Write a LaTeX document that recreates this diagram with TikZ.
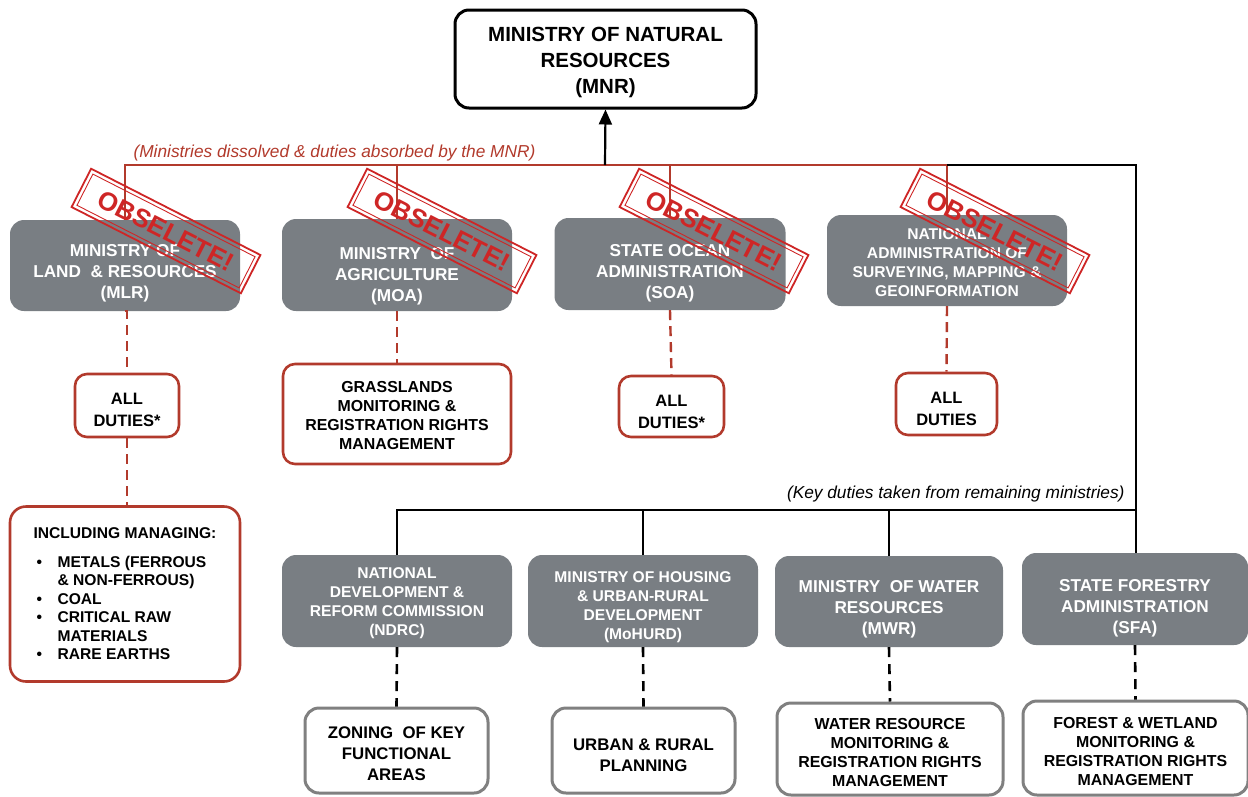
\documentclass[tikz,border=0pt]{standalone}
\usepackage{fontspec}
\setmainfont{Liberation Sans}
\usetikzlibrary{arrows.meta}
\definecolor{rd}{RGB}{178,58,44}
\definecolor{stampred}{RGB}{206,38,38}
\definecolor{gbox}{RGB}{121,126,131}
\definecolor{gline}{RGB}{128,128,128}
\newcommand\fsz[2]{\fontsize{#1}{#2}\selectfont}
\newcommand\up[1]{\rule{0pt}{#1pt}}
\tikzset{
  graybox/.style={fill=gbox, rounded corners=14pt, text=white, align=center, inner sep=2pt,
    font=\bfseries\fsz{17.2}{21}},
  grayfour/.style={graybox, font=\bfseries\fsz{15.6}{19}},
  dutybox/.style={draw=rd, line width=2.6pt, fill=white, rounded corners=12pt, align=center, inner sep=2pt,
    font=\bfseries\fsz{16.5}{22}},
  dutyfour/.style={dutybox, font=\bfseries\fsz{15.9}{19}},
  whitebox/.style={draw=gline, line width=3pt, fill=white, rounded corners=14pt, align=center, inner sep=2pt,
    font=\bfseries\fsz{15.9}{19}},
  whitethree/.style={whitebox, font=\bfseries\fsz{16.8}{21}},
  topbox/.style={draw=black, line width=3pt, fill=white, rounded corners=14pt, align=center, inner sep=2pt,
    font=\bfseries\fsz{20.5}{26}},
  redline/.style={draw=rd, line width=2pt},
  reddash/.style={draw=rd, line width=2.4pt, dash pattern=on 10pt off 6pt},
  blkline/.style={draw=black, line width=2.2pt},
  blkdash/.style={draw=black, line width=2.6pt, dash pattern=on 10pt off 7pt},
  stampout/.style={draw=stampred, line width=1.8pt, minimum width=190pt, minimum height=43pt, rotate=-27},
  stampin/.style={draw=stampred, line width=0.9pt, minimum width=182pt, minimum height=35pt, rotate=-27,
    text=stampred, inner sep=0pt, font=\bfseries\fsz{26}{26}},
}
\begin{document}
\begin{tikzpicture}[x=1pt,y=-1pt]
\useasboundingbox (0,0) rectangle (1248,796);

% top
\node[topbox, minimum width=301pt, minimum height=98pt] (mnr) at (605.5,59)
  {\up{21}MINISTRY OF NATURAL\\RESOURCES\\(MNR)};

% dissolved ministries
\node[graybox, minimum width=230pt, minimum height=91pt] (mlr) at (125,265.5)
  {\up{27}MINISTRY OF\\LAND \ \& RESOURCES\\(MLR)};
\node[graybox, minimum width=230pt, minimum height=92pt] (moa) at (397,265)
  {\up{34}MINISTRY \ OF\\AGRICULTURE\\(MOA)};
\node[graybox, minimum width=231pt, minimum height=92pt] (soa) at (670,264)
  {\up{30}STATE OCEAN\\ADMINISTRATION\\(SOA)};
\node[grayfour, minimum width=240pt, minimum height=91pt] (nas) at (947,260.5)
  {\up{15}NATIONAL\\ADMINISTRATION OF\\SURVEYING, MAPPING \&\\GEOINFORMATION};

% duty boxes (red)
\node[dutybox, minimum width=104pt, minimum height=63pt] (d1) at (127,405.5) {\up{21}ALL\\DUTIES*};
\node[dutyfour, minimum width=228pt, minimum height=100pt] (d2) at (397,414)
  {\up{14}GRASSLANDS\\MONITORING \&\\REGISTRATION RIGHTS\\MANAGEMENT};
\node[dutybox, minimum width=105pt, minimum height=61pt] (d3) at (671.5,406.5) {\up{22}ALL\\DUTIES*};
\node[dutybox, minimum width=101pt, minimum height=62pt] (d4) at (946.5,404) {\up{22}ALL\\DUTIES};
\node[draw=rd, line width=2.6pt, fill=white, rounded corners=16pt, align=left, inner sep=2pt,
  minimum width=230pt, minimum height=175pt, font=\bfseries\fsz{15.6}{18.5}] (inc) at (125,594)
  {INCLUDING MANAGING:\\[10pt]
   \makebox[24pt][l]{\hspace{3pt}\textbullet}METALS (FERROUS\\
   \hspace{24pt}\& NON-FERROUS)\\
   \makebox[24pt][l]{\hspace{3pt}\textbullet}COAL\\
   \makebox[24pt][l]{\hspace{3pt}\textbullet}CRITICAL RAW\\
   \hspace{24pt}MATERIALS\\
   \makebox[24pt][l]{\hspace{3pt}\textbullet}RARE EARTHS};

% remaining ministries
\node[grayfour, minimum width=230pt, minimum height=92pt] (ndrc) at (397,601)
  {\up{16}NATIONAL\\DEVELOPMENT \&\\REFORM COMMISSION\\(NDRC)};
\node[grayfour, minimum width=230pt, minimum height=92pt] (moh) at (643,601)
  {\up{23}MINISTRY OF HOUSING\\\& URBAN-RURAL\\DEVELOPMENT\\(MoHURD)};
\node[graybox, minimum width=228pt, minimum height=91pt] (mwr) at (889,601.5)
  {\up{28}MINISTRY \ OF WATER\\RESOURCES\\(MWR)};
\node[graybox, minimum width=226pt, minimum height=92pt] (sfa) at (1135,599)
  {\up{30}STATE FORESTRY\\ADMINISTRATION\\(SFA)};

% white duty boxes
\node[whitethree, minimum width=183pt, minimum height=85pt] (zon) at (396.5,750.5)
  {\up{18}ZONING \ OF KEY\\FUNCTIONAL\\AREAS};
\node[whitethree, minimum width=183pt, minimum height=85pt] (urb) at (643.5,750.5)
  {\up{22}URBAN \& RURAL\\PLANNING};
\node[whitebox, minimum width=226pt, minimum height=92pt] (wat) at (890,749)
  {\up{18}WATER RESOURCE\\MONITORING \&\\REGISTRATION RIGHTS\\MANAGEMENT};
\node[whitebox, minimum width=225pt, minimum height=94pt] (for) at (1135.5,748)
  {\up{18}FOREST \& WETLAND\\MONITORING \&\\REGISTRATION RIGHTS\\MANAGEMENT};

% upper connectors
\coordinate (jbar) at (605,165);
\coordinate (kbar) at (1136,510);
\draw[redline] (mlr.north) -- (mlr.north |- jbar) -- (nas.north |- jbar) -- (nas.north);
\draw[redline] (moa.north) -- (moa.north |- jbar);
\draw[redline] (soa.north) -- (soa.north |- jbar);
\draw[blkline] (nas.north |- jbar) -- (kbar |- jbar) -- (sfa.north -| kbar);
\draw[blkline, -{Triangle[length=15pt,width=13pt]}] (jbar) -- (mnr.south);
\node[anchor=base west, text=rd, font=\itshape\fsz{17.3}{18}] (lab1) at (130,157)
  {(Ministries dissolved \& duties absorbed by the MNR)};

% red dashed
\draw[reddash] (mlr.south) -- (mlr.south -| d1.north) -- (d1.north);
\draw[reddash] (d1.south) -- (inc.north -| d1.south);
\draw[reddash] (moa.south) -- (d2.north);
\draw[reddash] (soa.south) -- (d3.north);
\draw[reddash] (nas.south) -- (d4.north);

% lower connectors
\draw[blkline] (ndrc.north) -- (ndrc.north |- kbar) -- (kbar);
\draw[blkline] (moh.north) -- (moh.north |- kbar);
\draw[blkline] (mwr.north) -- (mwr.north |- kbar);
\node[anchor=base east, font=\itshape\fsz{17.3}{18}] (lab2) at (1128,498)
  {(Key duties taken from remaining ministries)};

\draw[blkdash] (ndrc.south) -- (zon.north);
\draw[blkdash] (moh.south) -- (urb.north);
\draw[blkdash] (mwr.south) -- (wat.north);
\draw[blkdash] (sfa.south) -- (for.north);

% stamps
\foreach \n/\x in {s1/166, s2/442, s3/714, s4/995}{
  \node[stampout] (\n o) at (\x,231) {};
  \node[stampin] (\n) at (\x,231) {OBSELETE!};
}
\end{tikzpicture}
\end{document}
